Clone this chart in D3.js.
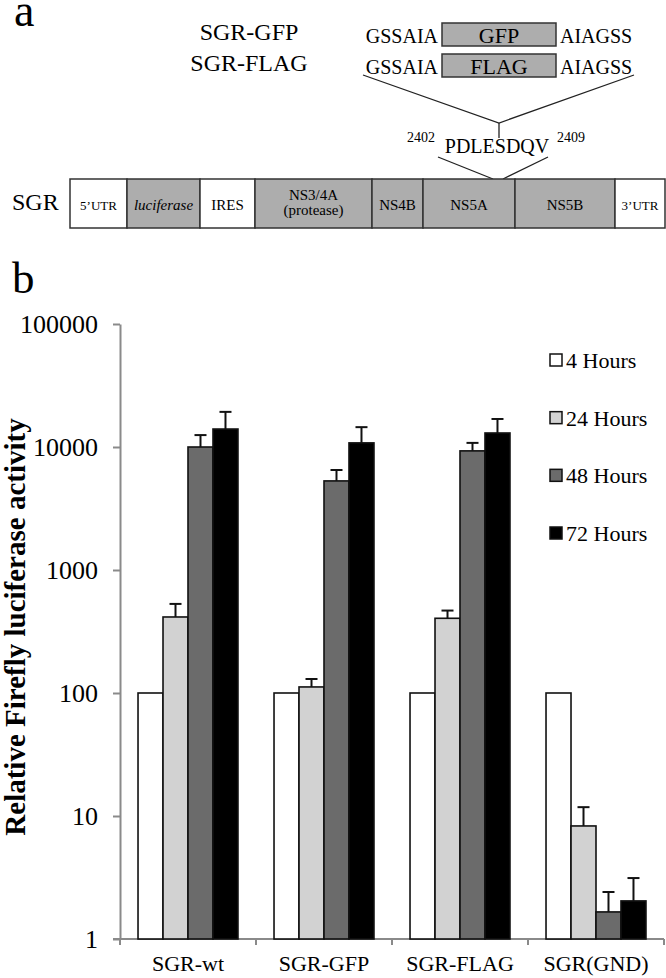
<!DOCTYPE html>
<html><head><meta charset="utf-8">
<script src="https://cdn.jsdelivr.net/npm/d3@7"></script>
<style>
html,body{margin:0;padding:0;background:#fff;}
svg{display:block;font-family:"Liberation Serif","DejaVu Serif",serif;}
</style></head>
<body>
<svg id="chart" width="666" height="978"></svg>
<script>
// ---------- data ----------
const categories = ["SGR-wt", "SGR-GFP", "SGR-FLAG", "SGR(GND)"];
const seriesNames = ["4 Hours", "24 Hours", "48 Hours", "72 Hours"];
const hours4  = [100, 100, 100, 100];
const hours24 = [415, 112, 405, 8.3];
const hours48 = [10000, 5300, 9300, 1.66];
const hours72 = [14000, 10800, 13000, 2.04];
const err4  = [0, 0, 0, 0];
const err24 = [530, 130, 468, 11.8];
const err48 = [12500, 6500, 10800, 2.41];
const err72 = [19300, 14500, 16900, 3.13];
const yTickValues = [1, 10, 100, 1000, 10000, 100000];
const yTickLabels = ["1", "10", "100", "1000", "10000", "100000"];
const seriesColors = ["#ffffff", "#d2d2d2", "#6b6b6b", "#000000"];

// schematic (panel a)
const segNames = ["5\u2019UTR", "luciferase", "IRES", "NS3/4A|(protease)", "NS4B", "NS5A", "NS5B", "3\u2019UTR"];
const segLengths = [57, 73, 55, 117, 51, 92, 100, 50];
const segShaded = [false, true, false, true, true, true, true, false];
const linkerLeft = "GSSAIA", linkerRight = "AIAGSS";
const tags = ["GFP", "FLAG"];
const constructs = ["SGR-GFP", "SGR-FLAG"];

const values = [hours4, hours24, hours48, hours72];
const errors = [err4, err24, err48, err72];

const svg = d3.select("#chart");
const serif = "'Liberation Serif','DejaVu Serif',serif";

// ---------- panel labels ----------
svg.append("text").attr("x", 14).attr("y", 26).attr("font-size", 46).text("a");
svg.append("text").attr("x", 12).attr("y", 293).attr("font-size", 45).text("b");

// ---------- panel a ----------
const cy = d3.scalePoint().domain(constructs).range([40, 71]);
svg.selectAll(".cons").data(constructs).join("text")
  .attr("x", 249).attr("y", d => cy(d)).attr("text-anchor", "middle")
  .attr("font-size", 24).text(d => d);

const ty = d3.scalePoint().domain(tags).range([23, 54]);
const tagG = svg.selectAll(".tag").data(tags).join("g");
tagG.append("rect").attr("x", 442).attr("y", d => ty(d)).attr("width", 114).attr("height", 23)
  .attr("fill", "#adadad").attr("stroke", "#333").attr("stroke-width", 1.5);
tagG.append("text").attr("x", 499).attr("y", d => ty(d) + 20).attr("text-anchor", "middle")
  .attr("font-size", 22).text(d => d);
tagG.append("text").attr("x", 438).attr("y", d => ty(d) + 20).attr("text-anchor", "end")
  .attr("font-size", 20).text(linkerLeft);
tagG.append("text").attr("x", 560).attr("y", d => ty(d) + 20)
  .attr("font-size", 20).text(linkerRight);

const lineStyle = sel => sel.attr("stroke", "#222").attr("stroke-width", 1.3).attr("fill", "none");
svg.append("path").attr("d", "M363,75L499,123L634,75").call(lineStyle);
svg.append("path").attr("d", "M499,123L499,138").call(lineStyle);
svg.append("path").attr("d", "M438,157L493,179").call(lineStyle);
svg.append("path").attr("d", "M548,157L503,179").call(lineStyle);
svg.append("text").attr("x", 497).attr("y", 153).attr("text-anchor", "middle").attr("font-size", 20).text("PDLESDQV");
svg.append("text").attr("x", 407).attr("y", 142).attr("font-size", 14).text("2402");
svg.append("text").attr("x", 557).attr("y", 142).attr("font-size", 14).text("2409");

svg.append("text").attr("x", 12).attr("y", 210).attr("font-size", 24).text("SGR");
const total = d3.sum(segLengths);
const sx = d3.scaleLinear().domain([0, total]).range([70, 665]);
const starts = d3.cumsum([0].concat(segLengths));
const segG = svg.selectAll(".seg").data(segNames).join("g");
segG.append("rect")
  .attr("x", (d, i) => sx(starts[i])).attr("y", 179)
  .attr("width", (d, i) => sx(starts[i + 1]) - sx(starts[i])).attr("height", 49)
  .attr("fill", (d, i) => segShaded[i] ? "#adadad" : "#fff")
  .attr("stroke", "#333").attr("stroke-width", 1.5);
segG.each(function (d, i) {
  const g = d3.select(this);
  const cx = (sx(starts[i]) + sx(starts[i + 1])) / 2;
  const parts = d.split("|");
  const small = d.includes("UTR");
  const fs = small ? 13 : 15;
  if (parts.length === 1) {
    g.append("text").attr("x", cx).attr("y", 210).attr("text-anchor", "middle")
      .attr("font-size", fs).attr("font-style", d === "luciferase" ? "italic" : "normal").text(d);
  } else {
    g.append("text").attr("x", cx).attr("y", 200).attr("text-anchor", "middle").attr("font-size", fs).text(parts[0]);
    g.append("text").attr("x", cx).attr("y", 215).attr("text-anchor", "middle").attr("font-size", fs).text(parts[1]);
  }
});

// ---------- panel b ----------
const y = d3.scaleLog().domain([1, 100000]).range([939, 324]);
const x = d3.scaleBand().domain(categories).range([120, 664]).paddingInner(0.265).paddingOuter(0.1325);
const xs = d3.scaleBand().domain(seriesNames).range([0, x.bandwidth()]);

const yAxis = d3.axisLeft(y).tickValues(yTickValues)
  .tickFormat((d, i) => yTickLabels[i]).tickSize(7).tickSizeOuter(0).tickPadding(15);
const yg = svg.append("g").attr("transform", "translate(120,0)").call(yAxis);
yg.select(".domain").attr("stroke", "#8a8a8a").attr("stroke-width", 2);
yg.selectAll(".tick line").attr("stroke", "#8a8a8a").attr("stroke-width", 2);
yg.selectAll(".tick text").attr("font-size", 26).attr("font-family", serif).attr("fill", "#000");

const bounds = categories.map(c => x(c) - x.step() * x.paddingOuter()).concat([664]);
svg.append("line").attr("x1", 113).attr("x2", 664).attr("y1", y(1)).attr("y2", y(1))
  .attr("stroke", "#8a8a8a").attr("stroke-width", 2);
svg.selectAll(".xt").data(bounds).join("line")
  .attr("x1", d => d).attr("x2", d => d).attr("y1", y(1)).attr("y2", y(1) + 6)
  .attr("stroke", "#8a8a8a").attr("stroke-width", 2);
svg.selectAll(".xl").data(categories).join("text")
  .attr("x", d => x(d) + x.bandwidth() / 2).attr("y", 971).attr("text-anchor", "middle")
  .attr("font-size", 22).text(d => d);

const barData = [];
seriesNames.forEach((s, si) => categories.forEach((c, ci) => {
  barData.push({ s, si, c, v: values[si][ci], e: errors[si][ci] });
}));
svg.selectAll(".bar").data(barData).join("rect")
  .attr("x", d => x(d.c) + xs(d.s)).attr("width", xs.bandwidth())
  .attr("y", d => y(d.v)).attr("height", d => y(1) - y(d.v))
  .attr("fill", d => seriesColors[d.si]).attr("stroke", "#111").attr("stroke-width", 1.6);

const eb = barData.filter(d => d.e > d.v);
svg.selectAll(".ev").data(eb).join("line")
  .attr("x1", d => x(d.c) + xs(d.s) + xs.bandwidth() / 2)
  .attr("x2", d => x(d.c) + xs(d.s) + xs.bandwidth() / 2)
  .attr("y1", d => y(d.v)).attr("y2", d => y(d.e))
  .attr("stroke", "#111").attr("stroke-width", 2);
svg.selectAll(".ec").data(eb).join("line")
  .attr("x1", d => x(d.c) + xs(d.s) + xs.bandwidth() / 2 - 6)
  .attr("x2", d => x(d.c) + xs(d.s) + xs.bandwidth() / 2 + 6)
  .attr("y1", d => y(d.e)).attr("y2", d => y(d.e))
  .attr("stroke", "#111").attr("stroke-width", 2);

const ly = d3.scalePoint().domain(seriesNames).range([360, 533]);
const lg = svg.selectAll(".lg").data(seriesNames).join("g");
lg.append("rect").attr("x", 550).attr("y", d => ly(d) - 6).attr("width", 12).attr("height", 12)
  .attr("fill", (d, i) => seriesColors[i]).attr("stroke", "#111").attr("stroke-width", 1.5);
lg.append("text").attr("x", 566).attr("y", d => ly(d) + 8).attr("font-size", 22).text(d => d);

svg.append("text").attr("transform", "translate(25,627) rotate(-90)")
  .attr("text-anchor", "middle").attr("font-size", 29).attr("font-weight", "bold")
  .text("Relative Firefly luciferase activity");
</script>
</body></html>
